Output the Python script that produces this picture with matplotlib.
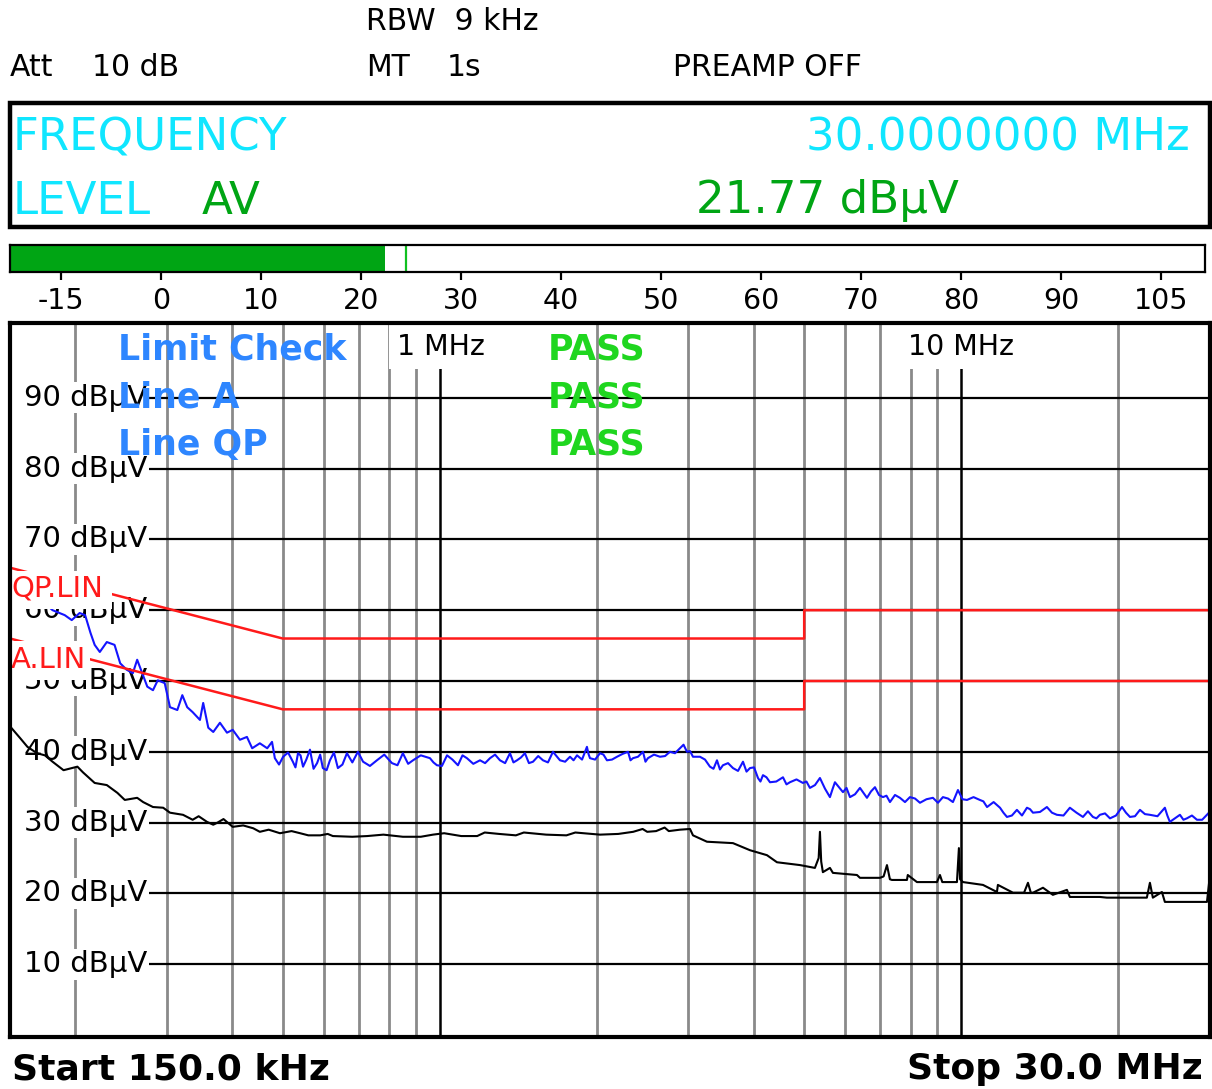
import numpy as np
import matplotlib
matplotlib.use('Agg')
import matplotlib.pyplot as plt
from matplotlib.patches import Rectangle
import matplotlib.transforms as mtransforms

# ---- data (frequency in MHz, level in dBuV) ----
# peak trace (blue), main points
pk_freq = [0.150, 0.160, 0.170, 0.176, 0.181, 0.191, 0.197, 0.204, 0.209, 0.214,
           0.218, 0.223, 0.230, 0.238, 0.244, 0.251, 0.258, 0.263, 0.269, 0.275,
           0.282, 0.288, 0.297, 0.304, 0.314, 0.321, 0.328, 0.336, 0.347, 0.352,
           0.360, 0.368, 0.379, 0.391, 0.401, 0.414, 0.427, 0.437, 0.452, 0.467,
           0.477, 0.483, 0.501, 0.523, 0.535, 0.547, 0.564, 0.582, 0.597, 0.616,
           0.638, 0.664, 0.697, 0.713, 0.758, 0.810, 0.850, 0.889, 0.958, 0.988,
           1.033, 1.084, 1.128, 1.195, 1.249, 1.305, 1.364, 1.407, 1.457, 1.510,
           1.578, 1.649, 1.701, 1.778, 1.834, 1.916, 1.942, 2.030, 2.093, 2.188,
           2.297, 2.348, 2.454, 2.508, 2.645, 2.764, 2.889, 2.980, 3.060, 3.156,
           3.298, 3.402, 3.493, 3.651, 3.816, 3.936, 4.077, 4.168, 4.299, 4.553,
           4.695, 4.972, 5.128, 5.360, 5.602, 5.727, 5.934, 6.120, 6.396, 6.597,
           6.834, 7.080, 7.302, 7.631, 7.976, 8.336, 8.827, 9.226, 9.642, 9.858,
           10.26, 10.86, 11.21, 11.87, 12.24, 12.79, 13.37, 13.73, 14.60, 15.26,
           16.16, 17.12, 17.89, 18.45, 19.29, 20.34, 21.07, 22.02, 23.01, 24.58,
           25.13, 26.27, 27.09, 28.32, 29.95]
pk_level = [61.3, 61.0, 61.5, 60.8, 60.0, 59.3, 58.6, 59.6, 59.3, 56.8,
            55.1, 54.1, 55.5, 55.1, 52.5, 51.6, 51.1, 53.0, 51.1, 49.2,
            48.7, 50.1, 49.7, 46.3, 45.9, 48.0, 46.3, 45.6, 44.5, 46.9,
            43.4, 42.8, 44.1, 42.7, 43.1, 41.7, 42.1, 40.5, 41.2, 40.5,
            41.4, 39.1, 39.3, 38.6, 39.8, 37.9, 40.3, 38.4, 37.7, 38.8,
            37.7, 39.8, 40.0, 38.6, 38.8, 38.4, 39.8, 38.8, 39.1, 38.1,
            39.5, 38.1, 39.1, 38.8, 39.1, 38.8, 39.8, 38.8, 39.8, 38.6,
            38.8, 40.0, 38.8, 39.3, 39.5, 40.7, 39.1, 39.8, 38.8, 39.3,
            40.0, 39.1, 40.0, 39.1, 39.3, 40.0, 40.5, 40.0, 39.3, 39.3,
            37.9, 38.8, 38.1, 37.7, 38.6, 37.7, 36.3, 36.7, 35.7, 36.4,
            35.7, 35.6, 34.9, 36.3, 33.6, 35.7, 34.3, 33.6, 34.9, 33.5,
            35.0, 33.6, 32.9, 33.5, 33.6, 32.8, 33.5, 33.6, 32.9, 34.6,
            33.2, 33.2, 32.2, 32.1, 30.8, 31.8, 32.1, 31.4, 32.2, 31.1,
            32.1, 30.8, 30.8, 31.1, 30.6, 32.2, 30.8, 31.8, 31.1, 32.1,
            30.1, 31.1, 30.6, 30.4, 31.5]

# peak trace, in-between readings (the fine ripple)
pk_freq_fine = [0.492, 0.512, 0.529, 0.541, 0.555, 0.573, 0.590, 0.607, 0.627, 0.651,
                0.680, 0.705, 0.735, 0.783, 0.830, 0.870, 0.920, 0.973, 1.010, 1.058,
                1.106, 1.160, 1.222, 1.277, 1.335, 1.385, 1.432, 1.483, 1.545, 1.613,
                1.675, 1.740, 1.806, 1.875, 1.929, 1.986, 2.061, 2.140, 2.242, 2.322,
                2.400, 2.481, 2.576, 2.705, 2.826, 2.935, 3.020, 3.227, 3.350, 3.447,
                3.572, 3.733, 3.876, 4.007, 4.122, 4.233, 4.420, 4.624, 4.833, 5.050,
                5.244, 5.480, 5.665, 5.830, 6.027, 6.258, 6.497, 6.715, 6.957, 7.190,
                7.466, 7.803, 8.156, 8.580, 9.026, 9.434, 10.06, 10.56, 11.03, 11.54,
                12.05, 12.51, 13.08, 13.55, 14.16, 14.93, 15.71, 16.64, 17.50, 18.17,
                18.87, 19.81, 20.70, 21.54, 22.51, 23.79, 24.85, 25.70, 26.68, 27.70,
                28.98]
pk_level_fine = [38.2, 39.9, 37.8, 39.5, 38.9, 37.6, 39.6, 37.4, 39.9, 38.2,
                 38.5, 39.3, 38.0, 39.6, 38.1, 38.3, 39.5, 38.5, 38.0, 38.9,
                 39.5, 38.3, 38.4, 39.6, 38.4, 38.5, 39.2, 38.4, 39.4, 38.5,
                 39.4, 38.6, 38.8, 38.9, 39.7, 38.9, 39.6, 38.9, 39.7, 38.8,
                 39.3, 38.6, 39.6, 39.4, 39.8, 41.0, 40.1, 38.9, 37.6, 37.5,
                 38.4, 37.3, 37.2, 37.8, 35.8, 36.4, 35.8, 35.4, 36.1, 35.8,
                 35.3, 34.8, 34.7, 35.0, 34.9, 34.0, 34.2, 34.4, 33.9, 33.8,
                 33.9, 32.9, 33.4, 33.3, 32.8, 33.4, 33.3, 33.6, 33.0, 32.9,
                 31.4, 31.0, 31.0, 31.9, 31.5, 31.4, 31.0, 31.4, 31.6, 30.6,
                 31.3, 31.0, 31.4, 30.9, 31.2, 30.9, 31.0, 30.6, 30.4, 31.0,
                 30.4]

# average trace (black)
av_freq = [0.150, 0.157, 0.162, 0.169, 0.175, 0.181, 0.190, 0.202, 0.207, 0.218,
           0.230, 0.241, 0.249, 0.263, 0.270, 0.282, 0.295, 0.304, 0.322, 0.336,
           0.358, 0.368, 0.401, 0.439, 0.452, 0.494, 0.540, 0.590, 0.624, 0.726,
           0.850, 0.971, 1.10, 1.30, 1.60, 2.03, 2.35, 2.60, 2.889, 3.020,
           3.060, 3.255, 3.651, 3.936, 4.242, 4.434, 4.908, 5.242, 5.330, 5.360,
           5.390, 5.430, 5.602, 5.676, 6.312, 6.396, 6.987, 7.100, 7.206, 7.300,
           7.366, 7.871, 7.900, 8.226, 8.985, 9.105, 9.200, 9.815, 9.900, 9.950,
           10.08, 11.01, 11.71, 11.76, 12.57, 13.20, 13.43, 13.60, 13.73, 14.35,
           14.99, 15.95, 16.16, 18.45, 19.03, 21.35, 22.70, 23.01, 23.31, 24.26,
           24.58, 29.60, 29.95]
av_level = [43.6, 41.9, 40.7, 39.8, 39.5, 38.6, 37.4, 37.9, 37.1, 35.6,
            35.3, 34.2, 33.2, 33.5, 32.9, 32.2, 32.1, 31.4, 31.1, 30.4,
            30.1, 29.7, 29.4, 29.2, 28.7, 28.5, 28.5, 28.2, 28.1, 28.1,
            28.0, 28.3, 28.1, 28.4, 28.3, 28.3, 28.7, 28.8, 29.0, 29.1,
            28.2, 27.3, 27.1, 26.1, 25.4, 24.4, 24.0, 23.6, 25.0, 28.7,
            24.5, 23.0, 23.6, 22.9, 22.6, 22.2, 22.2, 22.4, 24.0, 22.0,
            21.9, 21.9, 22.6, 21.6, 21.6, 22.6, 21.6, 21.6, 26.4, 22.0,
            21.6, 21.2, 20.2, 21.2, 20.1, 20.1, 21.5, 20.1, 20.1, 20.8,
            19.8, 20.5, 19.5, 19.5, 19.4, 19.4, 19.4, 21.5, 19.4, 20.2,
            18.8, 18.8, 22.2]
av_freq_fine = [0.345, 0.375, 0.385, 0.420, 0.470, 0.520, 0.560, 0.610, 0.680, 0.780,
                0.920, 1.02, 1.18, 1.22, 1.40, 1.45, 1.75, 1.82, 2.20, 2.45,
                2.50, 2.70, 2.75]
av_level_fine = [30.9, 30.0, 30.5, 29.6, 29.0, 28.8, 28.2, 28.4, 28.0, 28.3,
                 28.0, 28.5, 28.1, 28.6, 28.2, 28.6, 28.2, 28.6, 28.4, 29.1,
                 28.7, 29.3, 28.8]

lim_freq = [0.15, 0.5, 5.0, 5.0, 30.0]
qp_limit = [66, 56, 56, 60, 60]
av_limit = [56, 46, 46, 50, 50]

grid_gray = [0.2, 0.3, 0.4, 0.5, 0.6, 0.7, 0.8, 0.9,
             2, 3, 4, 5, 6, 7, 8, 9, 20]
grid_black = [1, 10]
level_lines = [10, 20, 30, 40, 50, 60, 70, 80, 90]

meter_labels = ['-15', '0', '10', '20', '30', '40', '50', '60', '70', '80', '90', '105']
meter_level = 22.4
meter_peak = 24.5


def merged(f1, l1, f2, l2):
    f = np.concatenate([f1, f2])
    l = np.concatenate([l1, l2])
    order = np.argsort(f, kind='stable')
    return f[order], l[order]


pk_f, pk_l = merged(pk_freq, pk_level, pk_freq_fine, pk_level_fine)
av_f, av_l = merged(av_freq, av_level, av_freq_fine, av_level_fine)

W, H = 1212, 1089
fig = plt.figure(figsize=(W / 100, H / 100), dpi=100)
fig.patch.set_facecolor('white')


def ftxt(x, y, s, **kw):
    # place text at pixel position (top-left origin)
    fig.text(x / W, 1 - y / H, s, **kw)


# header texts
hfs = 21.5
ftxt(10, 67, 'Att', fontsize=hfs, va='center')
ftxt(92, 67, '10 dB', fontsize=hfs, va='center')
ftxt(366, 21, 'RBW  9 kHz', fontsize=hfs, va='center')
ftxt(366, 67, 'MT', fontsize=hfs, va='center')
ftxt(447, 67, '1s', fontsize=hfs, va='center')
ftxt(673, 67, 'PREAMP OFF', fontsize=hfs, va='center')

# frequency / level box
fig.patches.append(Rectangle((10 / W, 1 - 227 / H), 1200 / W, 124 / H,
                             transform=fig.transFigure, fill=False,
                             edgecolor='black', linewidth=3.2))
cyan = '#10e6ff'
green = '#00a514'
bfs = 32.5
ftxt(13, 138, 'FREQUENCY', fontsize=bfs, color=cyan, va='center')
ftxt(1190, 138, '30.0000000 MHz', fontsize=bfs, color=cyan, va='center', ha='right')
ftxt(13, 201, 'LEVEL', fontsize=bfs, color=cyan, va='center')
ftxt(202, 201, 'AV', fontsize=bfs, color=green, va='center')
ftxt(696, 201, '21.77 dBµV', fontsize=bfs, color=green, va='center')

# level meter bar
bar = fig.add_axes([10 / W, 1 - 272 / H, 1195 / W, 27 / H])
bar.set_xlim(-0.51, 11.44)
bar.set_ylim(0, 1)
bar.barh(0.5, 1 + meter_level / 10 + 0.51, left=-0.51, height=1.0, color=green)
bar.axvline(1 + meter_peak / 10, color='#10c020', lw=1.6)
bar.set_xticks(range(len(meter_labels)))
bar.set_xticklabels(meter_labels, fontsize=20.5)
bar.set_yticks([])
bar.tick_params(axis='x', direction='out', length=6, width=1.6, pad=5)
for sp in bar.spines.values():
    sp.set_linewidth(1.6)

# main diagram
ax = fig.add_axes([10 / W, 52 / H, 1200 / W, 714 / H])
ax.set_xscale('log')
ax.set_xlim(0.15, 30)
ax.set_ylim(-0.28, 100.56)
ax.set_xticks([])
ax.set_yticks([])
ax.minorticks_off()
for sp in ax.spines.values():
    sp.set_linewidth(3)
    sp.set_zorder(10)

for f in grid_gray:
    ax.axvline(f, color='#8a8a8a', lw=2.0, zorder=1)
for f in grid_black:
    ax.axvline(f, color='black', lw=1.8, zorder=1.2)
for lv in level_lines:
    ax.axhline(lv, xmin=0.115, color='black', lw=1.6, zorder=1.5)

trans = mtransforms.blended_transform_factory(ax.transAxes, ax.transData)
for lv in level_lines:
    ax.text(0.1145, lv, f'{lv} dBµV', transform=trans, ha='right', va='center',
            fontsize=21, zorder=2,
            bbox=dict(facecolor='white', edgecolor='none', pad=1))

# frequency markers with white background
ax.text((397 - 10) / 1200, (1037 - 347) / 714, '1 MHz', transform=ax.transAxes,
        fontsize=20.5, va='center', ha='left', zorder=2,
        bbox=dict(facecolor='white', edgecolor='none', pad=6))
ax.text((908 - 10) / 1200, (1037 - 347) / 714, '10 MHz', transform=ax.transAxes,
        fontsize=20.5, va='center', ha='left', zorder=2,
        bbox=dict(facecolor='white', edgecolor='none', pad=6))

# traces
ax.plot(av_f, av_l, color='black', lw=1.5, zorder=3)
ax.plot(pk_f, pk_l, color='#1414ff', lw=1.5, zorder=3.2)
ax.plot(lim_freq, qp_limit, color='#ff1a1a', lw=1.8, zorder=3.5)
ax.plot(lim_freq, av_limit, color='#ff1a1a', lw=1.8, zorder=3.5)

# limit line labels
ax.add_patch(Rectangle((0, (1037 - 609) / 714), 102 / 1200, 38 / 714,
                       transform=ax.transAxes, facecolor='white',
                       edgecolor='none', zorder=4))
ax.add_patch(Rectangle((0, (1037 - 680) / 714), 80 / 1200, 39 / 714,
                       transform=ax.transAxes, facecolor='white',
                       edgecolor='none', zorder=4))
ax.text(1 / 1200, (1037 - 589) / 714, 'QP.LIN', transform=ax.transAxes,
        color='#ff1a1a', fontsize=21, va='center', zorder=5)
ax.text(1 / 1200, (1037 - 660) / 714, 'A.LIN', transform=ax.transAxes,
        color='#ff1a1a', fontsize=21, va='center', zorder=5)

# limit check status
blue = '#2e86ff'
pass_green = '#1fd61f'
for yy, label in ((350, 'Limit Check'), (398, 'Line A'), (445, 'Line QP')):
    ftxt(118, yy, label, fontsize=25, color=blue, fontweight='bold',
         va='center', zorder=20)
    ftxt(548, yy, 'PASS', fontsize=25, color=pass_green, fontweight='bold',
         va='center', zorder=20)

# start / stop
ftxt(12, 1069, 'Start 150.0 kHz', fontsize=26, fontweight='bold', va='center')
ftxt(1203, 1069, 'Stop 30.0 MHz', fontsize=26, fontweight='bold', va='center',
     ha='right')

fig.savefig('out.png', dpi=100)
